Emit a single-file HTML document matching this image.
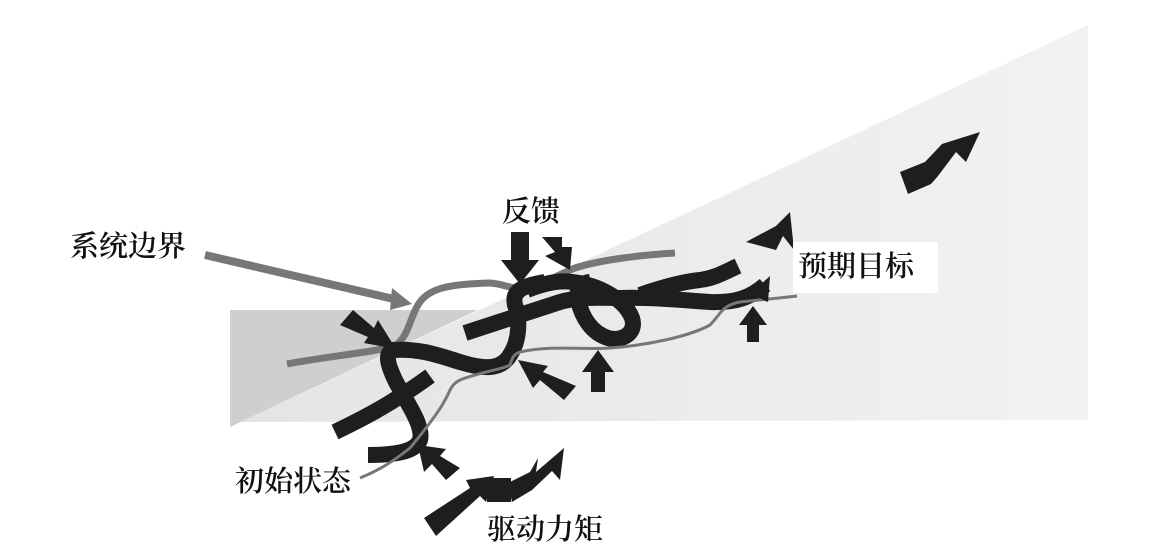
<!DOCTYPE html>
<html><head><meta charset="utf-8"><style>
html,body{margin:0;padding:0;background:#fff;}
svg{display:block;}
text{font-family:"Noto Serif CJK SC","Liberation Serif",serif;fill:#111;font-weight:600;}
</style></head><body>
<svg width="1172" height="556" viewBox="0 0 1172 556" xmlns="http://www.w3.org/2000/svg">
<defs>
<linearGradient id="lg" x1="0" y1="0" x2="1" y2="0">
<stop offset="0" stop-color="#e4e4e4"/><stop offset="1" stop-color="#f2f2f2"/>
</linearGradient>
</defs>
<rect width="1172" height="556" fill="#fff"/>
<polygon points="230,427 1088,25 1088,420 230,422" fill="url(#lg)"/>
<polygon points="230,310 478,310 230,427" fill="#cfcfcf"/>
<line x1="205" y1="255" x2="398" y2="300" stroke="#777" stroke-width="8"/>
<polygon points="392,288 412,304 390,310" fill="#777"/>
<path d="M287,364 C330,356 375,352 395,346 C410,335 410,315 420,302 C430,288 450,284 490,283 C505,284 512,290 525,288 C545,284 555,276 575,268 C600,260 640,255 675,253" fill="none" stroke="#777" stroke-width="7"/>
<g fill="none" stroke="#1e1e1e" stroke-width="16" stroke-linecap="butt">
<path d="M368,455 C395,455 415,452 420,440 C424,425 405,400 395,380 C388,365 385,355 392,350 C420,348 440,356 460,362 C480,368 500,372 510,355 C520,340 520,318 515,305 C512,292 520,286 545,282"/>
<path d="M335,432 C360,420 390,405 430,376"/>
<path d="M465,333 C490,325 520,315 560,302 C580,296 605,298 620,298 C650,297 680,300 710,302 C735,303 750,298 765,285"/>
<path d="M527,290 C545,283 560,280 572,282 C600,285 625,300 632,318 C637,333 622,342 608,338 C592,333 582,318 578,300 C576,290 580,283 590,282"/>
<path d="M640,295 C660,288 680,282 700,280 C715,278 725,272 738,266"/>
</g>
<path d="M360,478 C380,470 395,460 410,448 C425,430 440,410 445,400 C450,392 450,385 460,380 C480,372 500,370 510,365 C512,360 512,355 520,352 C550,345 580,350 610,348 C650,345 690,336 710,325 C720,315 722,305 740,302 C760,300 780,298 797,296" fill="none" stroke="#777" stroke-width="3"/>
<g fill="#1e1e1e">
<polygon points="511,232 529,232 529,260 539,260 520,284 501,260 511,260"/>
<polygon points="542,237 562,237 562,247 572,247 570,270 545,256 555,252"/>
<polygon points="340,325 353,310 374,328 378,320 396,349 364,343 368,337"/>
<polygon points="576,386 564,400 540,380 533,388 518,360 548,366 543,372"/>
<polygon points="591,392 605,392 605,372 614,372 598,350 582,372 591,372"/>
<polygon points="747,342 759,342 759,325 767,325 753,306 739,325 747,325"/>
<polygon points="746,242 776,226 790,212 794,250 783,236 776,250"/>
<polygon points="900,172 925,162 942,144 980,132 966,162 956,152 938,176 931,184 908,194"/>
<polygon points="750,294 770,276 768,302"/>
<polygon points="460,468 446,480 432,464 424,472 418,445 446,449 440,456"/>
<polygon points="424,518 470,488 466,480 494,476 486,502 480,496 436,536"/>
<rect x="487" y="478" width="24" height="24"/>
<polygon points="508,483 530,472 538,458 536,472 564,448 560,480 552,471 532,490 512,502"/>
</g>
<rect x="793" y="242" width="145" height="51" fill="#fff"/>
<g font-size="29">
<text x="70" y="256">系统边界</text>
<text x="502" y="221">反馈</text>
<text x="798" y="276">预期目标</text>
<text x="235" y="491">初始状态</text>
<text x="487" y="539">驱动力矩</text>
</g>
</svg>
</body></html>
